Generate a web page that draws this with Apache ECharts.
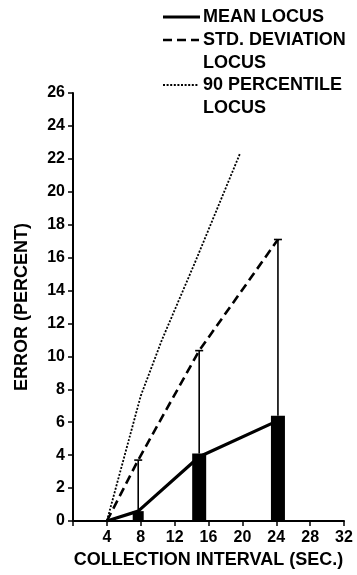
<!DOCTYPE html>
<html>
<head>
<meta charset="utf-8">
<script src="https://cdn.jsdelivr.net/npm/echarts@6/dist/echarts.min.js"></script>
<style>
  html, body { margin: 0; padding: 0; background: #fff; }
  #box { width: 357px; height: 575px; }
</style>
</head>
<body>
<div id="box"></div>
<script>
// collection intervals (sec.) where the error was measured
var intervals = [7.7, 14.9, 24.2];
// mean error (percent) -> filled bars
var meanError = [0.6, 4.1, 6.4];
// mean + std. deviation -> top of the error bars
var stdTop = [3.7, 10.35, 17.1];

// the three loci, as [interval, error]
var meanLocus = [[4, 0], [7.7, 0.6], [14.9, 3.9], [24.2, 6.1]];
var stdLocus = [[4, 0], [7.7, 3.7], [14.9, 10.35], [24.2, 17.1]];
var pct90Locus = [[4, 0], [8, 7.6], [10.5, 11.0], [14.4, 15.7], [19.7, 22.3]];

var yTicks = [0, 26, 2];   // min, max, step
var xTicks = [0, 32, 4];

var FONT = '"Liberation Sans", Arial, sans-serif';

window.onload = function () {
    var myChart = echarts.init(document.getElementById('box'));

    var barData = intervals.map(function (x, i) { return [x, meanError[i]]; });
    var errData = intervals.map(function (x, i) { return [x, meanError[i], stdTop[i]]; });

    var option = {
        animation: false,
        backgroundColor: '#fff',
        grid: { left: 73, right: 13, top: 93, bottom: 54 },
        xAxis: {
            type: 'value',
            min: xTicks[0], max: xTicks[1], interval: xTicks[2],
            splitLine: { show: false },
            axisLine: { onZero: false, lineStyle: { color: '#000', width: 2 } },
            axisTick: { length: 5, lineStyle: { color: '#000', width: 1.5 } },
            axisLabel: {
                margin: 9, color: '#000', fontFamily: FONT, fontWeight: 'bold', fontSize: 16,
                formatter: function (v) { return v === 0 ? '' : v; }
            },
            name: 'COLLECTION INTERVAL (SEC.)',
            nameLocation: 'middle',
            nameGap: 30,
            nameTextStyle: { color: '#000', fontFamily: FONT, fontWeight: 'bold', fontSize: 18 }
        },
        yAxis: {
            type: 'value',
            min: yTicks[0], max: yTicks[1], interval: yTicks[2],
            splitLine: { show: false },
            axisLine: { onZero: false, lineStyle: { color: '#000', width: 2 } },
            axisTick: { length: 5, lineStyle: { color: '#000', width: 1.5 } },
            axisLabel: {
                margin: 8, color: '#000', fontFamily: FONT, fontWeight: 'bold', fontSize: 16
            },
            name: 'ERROR (PERCENT)',
            nameLocation: 'middle',
            nameRotate: 90,
            nameGap: 42,
            nameTextStyle: { color: '#000', fontFamily: FONT, fontWeight: 'bold', fontSize: 18 }
        },
        series: [
            {
                name: '90 PERCENTILE LOCUS',
                type: 'line',
                data: pct90Locus,
                symbol: 'none',
                lineStyle: { color: '#000', width: 1.8, type: [2, 1.6] },
                z: 2
            },
            {
                name: 'STD. DEVIATION LOCUS',
                type: 'line',
                data: stdLocus,
                symbol: 'none',
                lineStyle: { color: '#000', width: 2.6, type: [9, 5] },
                z: 2
            },
            {
                name: 'MEAN LOCUS',
                type: 'line',
                data: meanLocus,
                symbol: 'none',
                lineStyle: { color: '#000', width: 3.2 },
                z: 3
            },
            {
                // filled mean bars
                type: 'custom',
                data: barData,
                z: 4,
                renderItem: function (params, api) {
                    var top = api.coord([api.value(0), api.value(1)]);
                    var base = api.coord([api.value(0), 0]);
                    var w = params.dataIndex === 0 ? 11 : 14;
                    return {
                        type: 'rect',
                        shape: { x: top[0] - w / 2, y: top[1], width: w, height: base[1] - top[1] },
                        style: { fill: '#000' }
                    };
                }
            },
            {
                // std. deviation bars with a cap on top
                type: 'custom',
                data: errData,
                z: 4,
                renderItem: function (params, api) {
                    var lo = api.coord([api.value(0), api.value(1)]);
                    var hi = api.coord([api.value(0), api.value(2)]);
                    var style = { stroke: '#000', lineWidth: 1.6 };
                    return {
                        type: 'group',
                        children: [
                            { type: 'line', shape: { x1: lo[0], y1: lo[1], x2: hi[0], y2: hi[1] }, style: style },
                            { type: 'line', shape: { x1: hi[0] - 4, y1: hi[1], x2: hi[0] + 4, y2: hi[1] }, style: style }
                        ]
                    };
                }
            }
        ],
        // legend box in the upper right, drawn by hand like the original
        graphic: [
            { type: 'line', shape: { x1: 163, y1: 17, x2: 200, y2: 17 }, style: { stroke: '#000', lineWidth: 3.2 } },
            { type: 'line', shape: { x1: 163, y1: 40, x2: 199, y2: 40 }, style: { stroke: '#000', lineWidth: 2.6, lineDash: [9, 5] } },
            { type: 'line', shape: { x1: 163, y1: 85, x2: 199, y2: 85 }, style: { stroke: '#000', lineWidth: 1.8, lineDash: [2, 1.6] } },
            { type: 'text', x: 203, y: 17, style: { text: 'MEAN LOCUS', fill: '#000', font: 'bold 18px ' + FONT, verticalAlign: 'middle' } },
            { type: 'text', x: 203, y: 40, style: { text: 'STD. DEVIATION', fill: '#000', font: 'bold 18px ' + FONT, verticalAlign: 'middle' } },
            { type: 'text', x: 203, y: 63, style: { text: 'LOCUS', fill: '#000', font: 'bold 18px ' + FONT, verticalAlign: 'middle' } },
            { type: 'text', x: 203, y: 85, style: { text: '90 PERCENTILE', fill: '#000', font: 'bold 18px ' + FONT, verticalAlign: 'middle' } },
            { type: 'text', x: 203, y: 108, style: { text: 'LOCUS', fill: '#000', font: 'bold 18px ' + FONT, verticalAlign: 'middle' } }
        ]
    };
    myChart.setOption(option);
};
</script>
</body>
</html>
